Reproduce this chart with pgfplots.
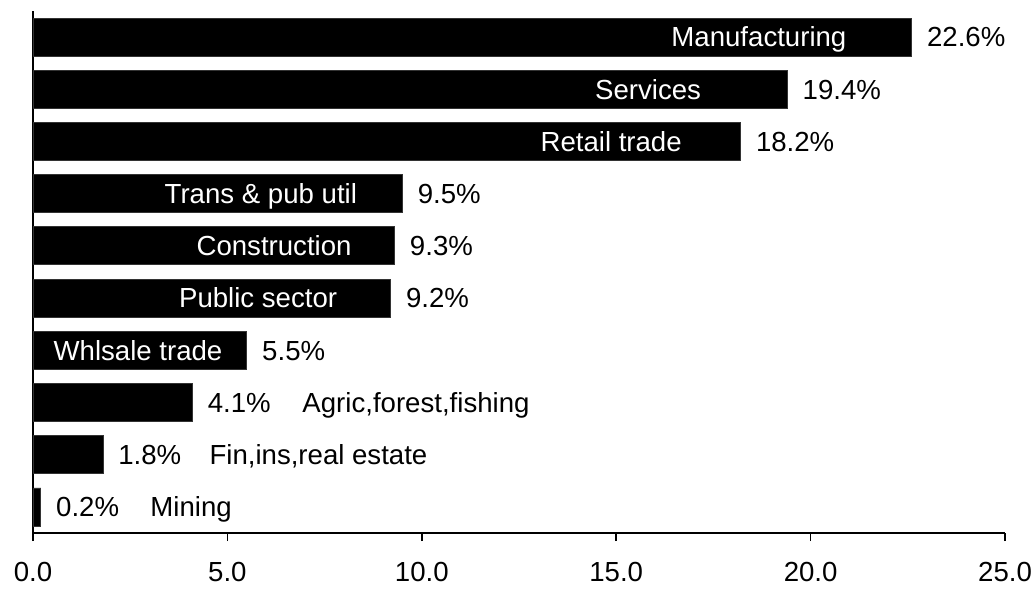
\documentclass[border=0pt]{standalone}
\usepackage{pgfplots}
\pgfplotsset{compat=1.18}
\usepackage{fontspec}
\setmainfont{Liberation Sans}
\newcommand\lf{\fontsize{13.8pt}{16pt}\selectfont}
\tikzset{lab/.style={font=\lf, inner sep=0pt, anchor=base, yshift=-4.9pt}}
\begin{document}
\begin{tikzpicture}
\useasboundingbox (-16.5pt,-27.5pt) rectangle (501.5pt,266.5pt);
\begin{axis}[
  at={(0,0)}, anchor=south west,
  scale only axis, width=486pt, height=261pt,
  xbar, bar width=19pt,
  xmin=0, xmax=25, ymin=0.5, ymax=10.5,
  enlargelimits=false,
  axis x line=bottom, axis y line=left,
  axis line style={-, line width=0.8pt, black},
  xtick={0,5,10,15,20,25},
  ytick=\empty,
  tick align=outside, major tick length=4pt,
  tick style={line width=0.8pt, black},
  xticklabel style={font=\lf, yshift=-7pt},
  /pgf/number format/assume math mode=true,
  xticklabel={\pgfmathprintnumber[fixed,fixed zerofill,precision=1]{\tick}},
  nodes near coords={\pgfmathprintnumber[fixed,fixed zerofill,precision=1,assume math mode=true]{\pgfplotspointmeta}\%},
  point meta=x,
  every node near coord/.append style={font=\lf, anchor=base west, inner sep=0pt, xshift=7.5pt, yshift=-4.9pt, black},
]
\addplot[fill=black, draw=black!80, line width=0.4pt] coordinates {
  (0.2,1) (1.8,2) (4.1,3) (5.5,4) (9.2,5) (9.3,6) (9.5,7) (18.2,8) (19.4,9) (22.6,10)
};
\node[lab, text=white] at (axis cs:18.67,10) {Manufacturing};
\node[lab, text=white] at (axis cs:15.82,9) {Services};
\node[lab, text=white] at (axis cs:14.87,8) {Retail trade};
\node[lab, text=white] at (axis cs:5.86,7) {Trans \& pub util};
\node[lab, text=white] at (axis cs:6.20,6) {Construction};
\node[lab, text=white] at (axis cs:5.79,5) {Public sector};
\node[lab, text=white] at (axis cs:2.70,4) {Whlsale trade};
\node[lab, anchor=base west] at (axis cs:6.92,3) {Agric,forest,fishing};
\node[lab, anchor=base west] at (axis cs:4.53,2) {Fin,ins,real estate};
\node[lab, anchor=base west] at (axis cs:3.01,1) {Mining};
\end{axis}
\end{tikzpicture}
\end{document}
